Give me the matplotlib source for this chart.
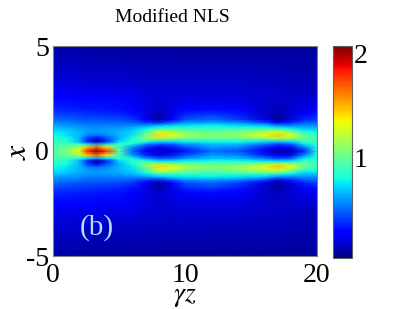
import numpy as np
import matplotlib
matplotlib.use("Agg")
import matplotlib.pyplot as plt

plt.rcParams['font.family'] = ['Liberation Serif', 'DejaVu Serif']
plt.rcParams['mathtext.fontset'] = 'stix'

title = "Modified NLS"
panel = "(b)"
z_nodes = [0, 1, 2, 2.6, 3.3, 4, 5, 6, 7, 8, 9, 10, 12, 14, 16, 17, 18, 19, 20]
x_nodes = [0, .2, .35, .45, .6, .75, .9, 1.05, 1.2, 1.35, 1.5, 1.75, 2, 2.5, 3, 4, 5]
intensity_upper = [
    [.95, 1.05, 1.35, 1.8, 2.05, 1.8, .95, .5, .25, .14, .18, .32, .5, .46, .24, .1, .1, .35, .8],
    [.93, 1.0, 1.15, 1.45, 1.65, 1.4, .9, .6, .38, .28, .34, .46, .6, .57, .36, .26, .3, .55, .83],
    [.9, .9, .8, .7, .6, .7, .85, .8, .6, .48, .5, .6, .68, .66, .55, .44, .5, .76, .85],
    [.88, .85, .65, .35, .04, .35, .72, .85, .82, .7, .72, .76, .78, .78, .72, .68, .72, .88, .87],
    [.85, .8, .65, .4, .25, .42, .65, .8, 1.05, 1.12, 1.08, 1.0, .98, .98, 1.08, 1.15, 1.1, 1.0, .88],
    [.8, .75, .65, .55, .5, .55, .65, .75, 1.05, 1.42, 1.35, 1.15, 1.05, 1.1, 1.3, 1.45, 1.3, .98, .86],
    [.77, .72, .65, .6, .58, .6, .65, .72, .9, 1.25, 1.2, 1.05, 1.0, 1.05, 1.2, 1.25, 1.1, .85, .8],
    [.7, .67, .62, .6, .58, .6, .62, .67, .78, .95, .95, .9, .88, .9, .95, .92, .8, .7, .7],
    [.62, .6, .58, .56, .55, .55, .56, .58, .62, .7, .75, .76, .78, .75, .72, .62, .58, .6, .6],
    [.55, .54, .52, .5, .5, .5, .5, .48, .42, .38, .5, .6, .62, .58, .45, .3, .38, .48, .5],
    [.5, .48, .46, .45, .45, .44, .44, .4, .25, .08, .28, .45, .5, .42, .22, .07, .2, .35, .42],
    [.42, .41, .4, .39, .38, .38, .36, .32, .22, .12, .22, .36, .4, .34, .18, .1, .18, .27, .32],
    [.36, .35, .34, .33, .33, .32, .31, .28, .22, .16, .22, .28, .3, .27, .18, .14, .18, .22, .25],
    [.28, .27, .27, .26, .26, .25, .25, .23, .2, .18, .19, .2, .21, .2, .17, .16, .16, .17, .18],
    [.22, .22, .21, .21, .2, .2, .2, .19, .18, .17, .17, .17, .17, .17, .16, .15, .15, .14, .14],
    [.15, .15, .15, .14, .14, .14, .14, .13, .13, .13, .13, .13, .12, .12, .12, .12, .11, .11, .11],
    [.1, .1, .1, .1, .09, .09, .09, .09, .09, .09, .08, .08, .08, .08, .08, .08, .08, .08, .08],
]
vmin, vmax = 0.03, 2.07

W, H = 407, 309
fig = plt.figure(figsize=(W / 100, H / 100), dpi=100)
ax = fig.add_axes([53 / W, 1 - 256 / H, 264 / W, 210 / H])
cax = fig.add_axes([332.5 / W, 1 - 258 / H, 19.5 / W, 212 / H])

upper = np.array(intensity_upper)
field = np.vstack([upper[:0:-1], upper])
xs = np.concatenate([-np.array(x_nodes[:0:-1]), x_nodes])
mesh = ax.pcolormesh(z_nodes, xs, field, shading='gouraud', cmap='jet', vmin=vmin, vmax=vmax)
ax.set_xlim(0, 20)
ax.set_ylim(-5, 5)
ax.set_xticks([0, 10, 20])
ax.set_yticks([-5, 0, 5])
ax.set_yticklabels(['-5', '0', '5'])
ax.tick_params(length=0, labelsize=20, pad=3)
ax.tick_params(axis='x', pad=5)
for s in ax.spines.values():
    s.set_color('#808080')
    s.set_linewidth(0.8)
ax.text(10, -6.92, r'$\gamma z$', fontsize=20, ha='center', va='center', clip_on=False)
ax.text(-2.65, 0, r'$x$', fontsize=23, rotation=90, ha='center', va='center', clip_on=False)
fig.text(172 / W, 1 - 17 / H, title, fontsize=14, ha='center', va='center')
ax.text(3.3, -3.65, panel, color='#a8e4f8', fontsize=21, ha='center', va='center')

cb = fig.colorbar(mesh, cax=cax, ticks=[1, 2])
cb.ax.tick_params(length=0, labelsize=20, pad=1)
cb.outline.set_edgecolor('#606060')
cb.outline.set_linewidth(0.8)

fig.savefig('out.png', dpi=100)
